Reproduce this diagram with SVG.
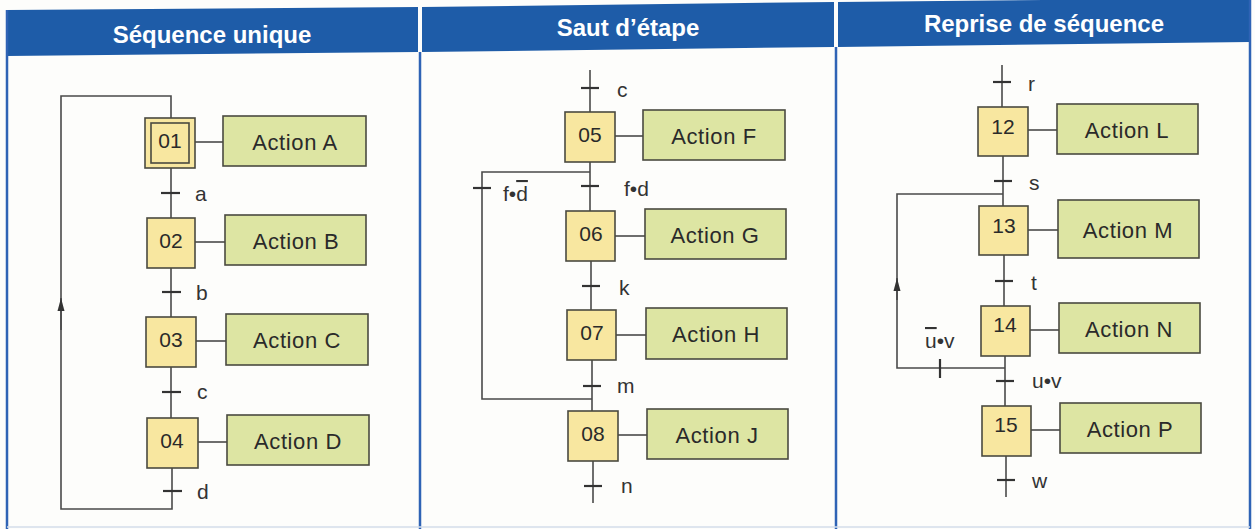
<svg xmlns="http://www.w3.org/2000/svg" width="1255" height="529" viewBox="0 0 1255 529">
<defs>
<style>
.hdr{fill:#1e5ca8}
.htxt{font-family:"Liberation Sans",Arial,sans-serif;font-weight:bold;font-size:24px;fill:#ffffff;text-anchor:middle}
.border{stroke:#2f63b5;stroke-width:2.5;fill:none}
.step{fill:#f8e7a0;stroke:#4a4a40;stroke-width:1.6}
.act{fill:#dde5a3;stroke:#4a4a40;stroke-width:1.6}
.num{font-family:"Liberation Sans",Arial,sans-serif;font-size:21px;fill:#2a2a2a;text-anchor:middle}
.atxt{font-family:"Liberation Sans",Arial,sans-serif;font-size:22px;fill:#2a2a2a;text-anchor:middle;letter-spacing:0.6px}
.lbl{font-family:"Liberation Sans",Arial,sans-serif;font-size:21px;fill:#333333}
.ln{stroke:#4a4a4a;stroke-width:1.6;fill:none}
.tick{stroke:#333333;stroke-width:2.2;fill:none}
.ov{text-decoration:overline}
</style>
<marker id="arr" markerWidth="14" markerHeight="8" refX="13" refY="4" orient="auto" markerUnits="userSpaceOnUse" viewBox="0 0 14 8">
<path d="M0,0.5 L13,4 L0,7.5 Z" fill="#333333"/>
</marker>
</defs>
<rect x="0" y="0" width="1255" height="529" fill="#fdfdfb"/>

<g id="frame">
<polygon class="hdr" points="7,10 418,7 418,52 7,56"/>
<polygon class="hdr" points="422,7 834,2 834,47 422,52"/>
<polygon class="hdr" points="838,2 1250,-2 1250,42 838,47"/>
<line class="border" x1="7" y1="10" x2="7" y2="529"/>
<line class="border" x1="420" y1="52" x2="420" y2="529"/>
<line class="border" x1="836" y1="47" x2="836" y2="529"/>
<line class="border" x1="1250" y1="0" x2="1250" y2="529"/>
<line x1="7" y1="527" x2="1250" y2="527" stroke="#d3dcea" stroke-width="1.5"/>
<text class="htxt" x="212" y="43">Séquence unique</text>
<text class="htxt" x="628" y="36">Saut d’étape</text>
<text class="htxt" x="1044" y="32">Reprise de séquence</text>
</g>

<g id="connectors">
<!-- Panel 1 -->
<path class="ln" d="M171,118 V96 H61 V509 H172 V468"/>
<line class="ln" x1="61" y1="330" x2="61" y2="298" marker-end="url(#arr)"/>
<line class="ln" x1="171" y1="168" x2="171" y2="218"/>
<line class="ln" x1="171" y1="268" x2="171" y2="317"/>
<line class="ln" x1="171" y1="367" x2="171" y2="418"/>
<line class="ln" x1="195" y1="142" x2="223" y2="142"/>
<line class="ln" x1="195" y1="242" x2="225" y2="242"/>
<line class="ln" x1="196" y1="341" x2="226" y2="341"/>
<line class="ln" x1="198" y1="442" x2="227" y2="442"/>
<line class="tick" x1="161" y1="193" x2="180" y2="193"/>
<line class="tick" x1="162" y1="292" x2="181" y2="292"/>
<line class="tick" x1="162" y1="392" x2="181" y2="392"/>
<line class="tick" x1="163" y1="491" x2="182" y2="491"/>
<!-- Panel 2 -->
<line class="ln" x1="590" y1="70" x2="590" y2="112"/>
<line class="ln" x1="590" y1="162" x2="590" y2="211"/>
<path class="ln" d="M590,172 H482 V399 H592"/>
<line class="ln" x1="591" y1="261" x2="591" y2="310"/>
<line class="ln" x1="592" y1="360" x2="592" y2="411"/>
<line class="ln" x1="593" y1="461" x2="593" y2="503"/>
<line class="ln" x1="615" y1="136" x2="643" y2="136"/>
<line class="ln" x1="615" y1="236" x2="645" y2="236"/>
<line class="ln" x1="616" y1="335" x2="646" y2="335"/>
<line class="ln" x1="618" y1="435" x2="647" y2="435"/>
<line class="tick" x1="581" y1="88" x2="599" y2="88"/>
<line class="tick" x1="581" y1="186" x2="599" y2="186"/>
<line class="tick" x1="473" y1="188" x2="491" y2="188"/>
<line class="tick" x1="582" y1="286" x2="600" y2="286"/>
<line class="tick" x1="583" y1="386" x2="601" y2="386"/>
<line class="tick" x1="584" y1="486" x2="602" y2="486"/>
<!-- Panel 3 -->
<line class="ln" x1="1002" y1="65" x2="1002" y2="107"/>
<line class="ln" x1="1003" y1="156" x2="1003" y2="206"/>
<line class="ln" x1="1004" y1="255" x2="1004" y2="306"/>
<line class="ln" x1="1005" y1="356" x2="1005" y2="406"/>
<line class="ln" x1="1006" y1="456" x2="1006" y2="497"/>
<path class="ln" d="M1005,368 H897 V194 H1003"/>
<line class="ln" x1="897" y1="300" x2="897" y2="278" marker-end="url(#arr)"/>
<line class="ln" x1="1028" y1="130" x2="1057" y2="130"/>
<line class="ln" x1="1028" y1="230" x2="1058" y2="230"/>
<line class="ln" x1="1030" y1="330" x2="1059" y2="330"/>
<line class="ln" x1="1031" y1="430" x2="1060" y2="430"/>
<line class="tick" x1="993" y1="82" x2="1011" y2="82"/>
<line class="tick" x1="994" y1="181" x2="1012" y2="181"/>
<line class="tick" x1="995" y1="281" x2="1013" y2="281"/>
<line class="tick" x1="996" y1="381" x2="1014" y2="381"/>
<line class="tick" x1="997" y1="480" x2="1015" y2="480"/>
<line class="tick" x1="940" y1="359" x2="940" y2="378"/>
</g>

<g id="labels">
<text class="lbl" x="195" y="201">a</text>
<text class="lbl" x="196" y="300">b</text>
<text class="lbl" x="197" y="399">c</text>
<text class="lbl" x="197" y="499">d</text>
<text class="lbl" x="617" y="97">c</text>
<text class="lbl" x="624" y="196">f•d</text>
<text class="lbl" x="503" y="201">f•<tspan class="ov">d</tspan></text>
<text class="lbl" x="619" y="295">k</text>
<text class="lbl" x="617" y="393">m</text>
<text class="lbl" x="621" y="493">n</text>
<text class="lbl" x="1028" y="91">r</text>
<text class="lbl" x="1029" y="190">s</text>
<text class="lbl" x="1031" y="290">t</text>
<text class="lbl" x="1032" y="388">u•v</text>
<text class="lbl" x="925" y="348"><tspan class="ov">u</tspan>•v</text>
<text class="lbl" x="1032" y="488">w</text>
</g>

<g id="step01"><rect class="step" x="145" y="118" width="50" height="50"/><rect class="step" x="151" y="123" width="38" height="40"/><text class="num" x="170" y="148">01</text></g>
<g id="actA"><rect class="act" x="223" y="116" width="143" height="50"/><text class="atxt" x="295" y="150">Action A</text></g>
<g id="step02"><rect class="step" x="147" y="218" width="48" height="50"/><text class="num" x="171" y="248">02</text></g>
<g id="actB"><rect class="act" x="225" y="215" width="141" height="50"/><text class="atxt" x="296" y="249">Action B</text></g>
<g id="step03"><rect class="step" x="146" y="317" width="50" height="50"/><text class="num" x="171" y="347">03</text></g>
<g id="actC"><rect class="act" x="226" y="314" width="142" height="51"/><text class="atxt" x="297" y="348">Action C</text></g>
<g id="step04"><rect class="step" x="147" y="418" width="51" height="50"/><text class="num" x="172" y="448">04</text></g>
<g id="actD"><rect class="act" x="227" y="415" width="142" height="50"/><text class="atxt" x="298" y="449">Action D</text></g>

<g id="step05"><rect class="step" x="565" y="112" width="50" height="50"/><text class="num" x="590" y="142">05</text></g>
<g id="actF"><rect class="act" x="643" y="110" width="142" height="50"/><text class="atxt" x="714" y="144">Action F</text></g>
<g id="step06"><rect class="step" x="566" y="211" width="49" height="50"/><text class="num" x="591" y="241">06</text></g>
<g id="actG"><rect class="act" x="645" y="209" width="141" height="50"/><text class="atxt" x="715" y="243">Action G</text></g>
<g id="step07"><rect class="step" x="567" y="310" width="49" height="50"/><text class="num" x="592" y="340">07</text></g>
<g id="actH"><rect class="act" x="646" y="308" width="141" height="51"/><text class="atxt" x="716" y="342">Action H</text></g>
<g id="step08"><rect class="step" x="568" y="411" width="50" height="50"/><text class="num" x="593" y="441">08</text></g>
<g id="actJ"><rect class="act" x="647" y="409" width="141" height="50"/><text class="atxt" x="717" y="443">Action J</text></g>

<g id="step12"><rect class="step" x="978" y="107" width="50" height="49"/><text class="num" x="1003" y="134">12</text></g>
<g id="actL"><rect class="act" x="1057" y="104" width="141" height="50"/><text class="atxt" x="1127" y="138">Action L</text></g>
<g id="step13"><rect class="step" x="979" y="206" width="49" height="49"/><text class="num" x="1004" y="233">13</text></g>
<g id="actM"><rect class="act" x="1058" y="200" width="141" height="58"/><text class="atxt" x="1128" y="238">Action M</text></g>
<g id="step14"><rect class="step" x="981" y="306" width="49" height="50"/><text class="num" x="1005" y="332">14</text></g>
<g id="actN"><rect class="act" x="1059" y="303" width="141" height="50"/><text class="atxt" x="1129" y="337">Action N</text></g>
<g id="step15"><rect class="step" x="982" y="406" width="49" height="50"/><text class="num" x="1006" y="432">15</text></g>
<g id="actP"><rect class="act" x="1060" y="403" width="141" height="50"/><text class="atxt" x="1130" y="437">Action P</text></g>
</svg>
